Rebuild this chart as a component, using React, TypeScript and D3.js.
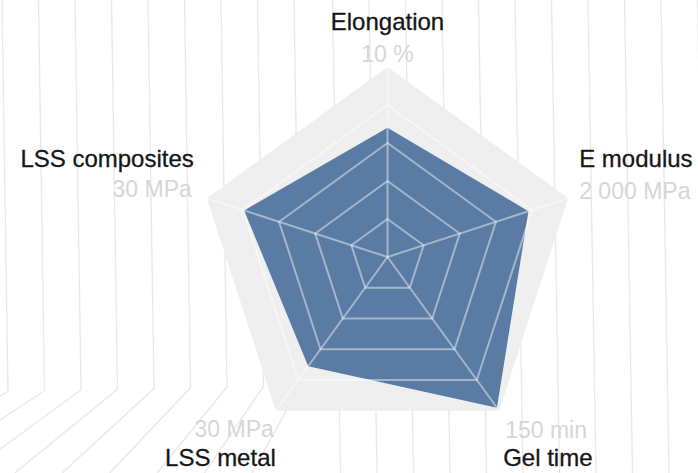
import React from "react";
import * as d3 from "d3";

const axisNames = ["Elongation", "E modulus", "Gel time", "LSS metal", "LSS composites"];
const maxLabels = ["10 %", "2 000 MPa", "150 min", "30 MPa", "30 MPa"];
const maxValues = [10, 2000, 150, 30, 30];
const seriesValues = [6.8, 1560, 147, 21.3, 23.8];
const gridLevels = [0.2, 0.4, 0.6, 0.8, 1];

const W = 698;
const H = 473;
const cx = 387.5;
const cy = 257;
const R = 190;

// label placement per axis: [dx name, dy name, dx value, dy value, anchor]
const labelLayout: [number, number, number, number, string][] = [
  [0, -37, 0, -5, "middle"],
  [11, -31, 11, 1, "start"],
  [4, 55, 6, 27, "start"],
  [0, 55, -2, 26, "end"],
  [-13, -31, -15, -1, "end"],
];

export default function App() {
  const n = axisNames.length;
  const angle = d3
    .scaleLinear()
    .domain([0, n])
    .range([0, 2 * Math.PI]);
  const rScales = maxValues.map((m) => d3.scaleLinear().domain([0, m]).range([0, R]));
  const pt = (i: number, r: number): [number, number] => {
    const a = angle(i);
    return [cx + r * Math.sin(a), cy - r * Math.cos(a)];
  };
  const closed = d3.line().curve(d3.curveLinearClosed);
  const ring = (f: number) => closed(d3.range(n).map((i) => pt(i, f * R)));
  const dataPath = closed(seriesValues.map((v, i) => pt(i, rScales[i](v))));

  // decorative background lines
  const bgLines: string[] = [];
  const bgLine = d3.line();
  for (let k = -2; k < 21; k++) {
    const x0 = 8 + k * 36.5;
    const pts: [number, number][] = [];
    if (x0 < 330) {
      const bendY = 385 + (330 - x0) * 0.02;
      pts.push([x0 - 6, 0], [x0, bendY], [x0 - (360 - x0) * 0.3 - 30, H]);
    } else {
      pts.push([x0 - 4, 0], [x0 + 4, H]);
    }
    bgLines.push(bgLine(pts) as string);
  }

  const font = "'Liberation Sans', Arial, Helvetica, sans-serif";

  return (
    <svg
      width={W}
      height={H}
      style={{ position: "absolute", left: 0, top: 0, background: "#ffffff" }}
    >
      <g>
        {bgLines.map((d, i) => (
          <path key={i} d={d} fill="none" stroke="#e9e9e9" strokeWidth={1.4} />
        ))}
      </g>
      <path d={ring(1) as string} fill="#efefef" />
      <path d={dataPath as string} fill="#5a7ba4" />
      <g stroke="#ffffff" strokeOpacity={0.45} strokeWidth={2} fill="none">
        {gridLevels.slice(0, -1).map((f) => (
          <path key={f} d={ring(f) as string} />
        ))}
        {d3.range(n).map((i) => {
          const [x, y] = pt(i, R);
          return <line key={i} x1={cx} y1={cy} x2={x} y2={y} />;
        })}
      </g>
      <g fontFamily={font} fontSize={24}>
        {axisNames.map((name, i) => {
          const [x, y] = pt(i, R);
          const [dxn, dyn, dxv, dyv, anchor] = labelLayout[i];
          return (
            <g key={name}>
              <text
                x={x + dxv}
                y={y + dyv}
                textAnchor={anchor}
                fill="#d6d6d6"
                fontSize={23}
              >
                {maxLabels[i]}
              </text>
              <text
                x={x + dxn}
                y={y + dyn}
                textAnchor={anchor}
                fill="#161616"
                stroke="#161616"
                strokeWidth={0.3}
              >
                {name}
              </text>
            </g>
          );
        })}
      </g>
    </svg>
  );
}
